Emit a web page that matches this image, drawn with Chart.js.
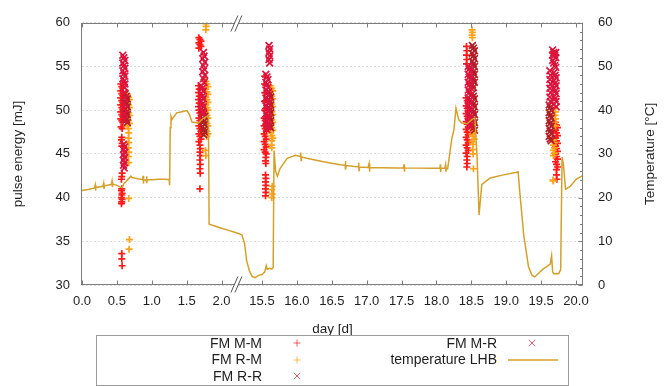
<!DOCTYPE html>
<html><head><meta charset="utf-8">
<script src="https://cdn.jsdelivr.net/npm/chart.js@4.4.1/dist/chart.umd.min.js"></script>
<style>
html,body{margin:0;padding:0;background:#fff;}
#wrap{position:relative;width:670px;height:386px;overflow:hidden;font-family:"Liberation Sans",Arial,sans-serif;}
#c{position:absolute;left:0;top:0;}
#legendBox{position:absolute;left:96px;top:335px;width:471px;height:49px;border:1px solid #9a9a9a;}
.lt{position:absolute;font-size:14px;color:#1e1e1e;white-space:nowrap;line-height:16px;text-align:right;}
svg.sym{position:absolute;overflow:visible;}
</style></head>
<body><div id="wrap"><canvas id="c" width="670" height="386"></canvas><div id="legendBox"></div></div>
<script>
// ---------------- data ----------------
const seriesNames = ['FM M-M', 'FM R-M', 'FM R-R', 'FM M-R', 'temperature LHB'];
const xTitle = 'day [d]';
const yTitle = 'pulse energy [mJ]';
const y2Title = 'Temperature [°C]';
const xTickDays = [0, 0.5, 1, 1.5, 2, 15.5, 16, 16.5, 17, 17.5, 18, 18.5, 19, 19.5, 20];
const xTickLabels = ['0.0','0.5','1.0','1.5','2.0','15.5','16.0','16.5','17.0','17.5','18.0','18.5','19.0','19.5','20.0'];
const yTicks = [30, 35, 40, 45, 50, 55, 60];
const y2Ticks = [0, 10, 20, 30, 40, 50, 60];
const xMaxDay = 20.1;
const gapDays = 12.92;      // days cut out by the axis break
const breakAtDay = 2.22;    // where the break marks sit

// FM M-M  [day, pulse energy mJ]
const mmPoints = [
 [0.555,53.0],[0.57,52.7],[0.585,52.5],[0.555,52.2],[0.57,51.9],[0.585,51.7],[0.555,51.4],[0.57,51.1],[0.585,50.9],
 [0.555,50.6],[0.57,50.3],[0.585,50.1],[0.555,49.8],[0.57,49.5],[0.585,49.3],[0.555,49.0],[0.57,48.8],[0.585,48.6],
 [0.56,48.1],[0.575,47.9],[0.57,46.9],[0.565,46.6],[0.575,46.2],[0.57,45.9],[0.575,42.8],[0.57,42.4],[0.565,42.1],
 [0.57,41.0],[0.565,40.8],[0.575,40.5],[0.57,40.3],[0.565,40.0],[0.575,39.8],[0.57,39.5],[0.565,39.3],
 [0.57,33.6],[0.57,33.0],[0.575,32.2],
 [1.675,58.3],[1.69,58.1],[1.705,57.9],[1.675,57.7],[1.69,57.5],[1.705,57.3],[1.675,57.1],
 [1.67,52.8],[1.68,52.4],[1.67,52.0],[1.68,51.6],[1.67,51.2],[1.68,50.8],[1.67,50.4],
 [1.675,50.0],[1.69,49.7],[1.705,49.4],[1.675,49.1],[1.69,48.8],[1.705,48.5],[1.675,48.2],[1.69,47.9],[1.705,47.6],
 [1.675,47.3],[1.69,47.0],[1.705,46.7],[1.675,46.4],
 [1.69,46.0],[1.695,45.6],[1.69,45.2],[1.695,44.8],[1.69,44.3],[1.695,43.8],[1.69,43.3],[1.695,42.8],[1.69,41.0],
 [15.54,53.9],[15.535,53.0],[15.54,52.0],[15.535,51.0],[15.54,50.0],
 [15.53,49.1],[15.545,48.8],[15.56,48.5],[15.53,48.2],[15.545,47.9],[15.56,47.6],[15.53,47.3],[15.545,47.0],[15.56,46.7],
 [15.53,46.4],[15.545,46.1],[15.56,45.8],[15.53,45.5],[15.545,45.2],[15.56,45.0],
 [15.555,44.6],[15.55,44.2],[15.555,43.9],[15.55,42.6],[15.555,42.2],[15.55,41.8],[15.555,41.4],[15.55,41.0],[15.555,40.6],[15.55,40.2],
 [18.43,57.3],[18.435,56.8],[18.43,56.3],[18.435,55.8],[18.43,55.3],
 [18.425,51.4],[18.44,51.1],[18.455,50.8],[18.425,50.5],[18.44,50.2],[18.455,49.9],[18.425,49.6],[18.44,49.3],[18.455,49.0],
 [18.425,48.7],[18.44,48.4],[18.455,48.1],[18.425,47.8],[18.44,47.5],[18.455,47.2],[18.425,46.9],[18.44,46.6],[18.455,46.3],
 [18.425,46.0],[18.44,45.7],[18.455,45.4],[18.425,45.1],
 [18.44,44.7],[18.435,44.3],[18.44,43.9],[18.435,43.5],
 [19.705,48.6],[19.72,48.3],[19.735,48.0],[19.705,47.7],[19.72,47.4],[19.735,47.1],[19.705,46.8],[19.72,46.5],[19.735,46.2],
 [19.705,45.9],[19.72,45.6],[19.735,45.3],[19.705,45.0],[19.72,44.7],[19.735,44.4],[19.705,44.1],[19.72,43.8],[19.735,43.5],
 [19.72,43.2],[19.72,42.6],[19.725,42.1]
];
// FM R-M
const rmPoints = [
 [0.65,51.8],[0.665,51.5],[0.68,51.2],[0.65,50.9],[0.665,50.6],[0.68,50.3],[0.65,50.0],[0.665,49.7],[0.68,49.4],
 [0.65,49.1],[0.665,48.8],[0.68,48.5],[0.65,48.2],[0.665,47.9],
 [0.67,47.4],[0.665,46.8],[0.67,46.3],[0.665,45.7],[0.67,45.2],[0.665,44.7],[0.67,44.0],[0.67,39.9],[0.68,35.2],[0.675,34.1],
 [1.775,53.3],[1.79,53.0],[1.805,52.7],[1.775,52.4],[1.79,52.1],[1.805,51.8],[1.775,51.5],[1.79,51.2],[1.805,50.9],
 [1.775,50.6],[1.79,50.3],[1.805,50.0],[1.775,49.7],[1.79,49.4],[1.805,49.1],[1.775,48.8],[1.79,48.5],[1.805,48.2],
 [1.775,47.9],[1.79,47.6],[1.805,47.3],[1.79,47.0],
 [1.775,59.9],[1.78,59.6],[1.775,59.2],[1.77,45.4],[1.775,44.8],
 [15.625,52.8],[15.64,52.5],[15.655,52.2],[15.625,51.9],[15.64,51.6],[15.655,51.3],[15.625,51.0],[15.64,50.7],[15.655,50.4],
 [15.625,50.1],[15.64,49.8],[15.655,49.5],[15.625,49.2],[15.64,48.9],[15.655,48.6],[15.625,48.3],[15.64,48.0],[15.655,47.7],
 [15.625,47.4],[15.64,47.1],[15.655,46.8],[15.64,46.5],
 [15.635,46.0],[15.64,45.7],[15.645,41.3],[15.64,40.9],[15.645,40.4],[15.64,40.0],
 [18.51,49.1],[18.525,48.8],[18.54,48.5],[18.51,48.2],[18.525,47.9],[18.54,47.6],[18.51,47.3],[18.525,47.0],[18.54,46.7],
 [18.51,46.4],[18.525,46.1],
 [18.51,59.2],[18.515,58.9],[18.51,58.6],[18.515,58.3],[18.52,45.5],[18.525,45.0],[18.53,43.3],
 [19.70,50.2],[19.705,49.8],[19.70,49.4],[19.705,49.0],[19.70,48.6],[19.705,48.2],
 [19.675,46.6],[19.69,46.3],[19.675,46.0],[19.69,45.7],[19.675,45.4],[19.69,45.1],[19.675,44.8],
 [19.67,42.0],[19.675,41.9]
];
// FM R-R
const rrPoints = [
 [0.62,51.9],[0.635,51.6],[0.65,51.3],[0.62,51.0],[0.635,50.7],[0.65,50.4],[0.62,50.1],[0.635,49.8],[0.65,49.5],
 [0.62,49.2],[0.635,48.9],[0.65,48.6],
 [1.73,49.9],[1.745,49.6],[1.76,49.3],[1.73,49.0],[1.745,48.7],[1.76,48.4],[1.73,48.1],[1.745,47.8],[1.76,47.5],[1.745,47.2],
 [15.595,52.1],[15.61,51.8],[15.625,51.5],[15.595,51.2],[15.61,50.9],[15.625,50.6],[15.595,50.3],[15.61,50.0],[15.625,49.7],
 [15.595,49.4],[15.61,49.1],[15.625,48.8],[15.595,48.5],[15.61,48.2],[15.625,48.0],
 [18.515,57.4],[18.53,57.1],[18.545,56.8],[18.515,56.5],[18.53,56.2],[18.545,55.9],[18.515,55.6],[18.53,55.3],[18.545,55.0],
 [18.515,54.7],[18.53,54.4],[18.545,54.1],[18.515,53.8],[18.53,53.5],[18.545,53.2],[18.515,52.9],[18.53,52.6],
 [18.515,51.9],[18.53,51.6],[18.545,51.3],[18.515,51.0],[18.53,50.7],[18.545,50.4],[18.515,50.1],[18.53,49.8],[18.545,49.5],
 [18.515,49.2],[18.53,48.9],[18.545,48.6],[18.515,48.3],[18.53,48.0],[18.545,47.7],
 [19.615,50.6],[19.63,50.3],[19.645,50.0],[19.615,49.7],[19.63,49.4],[19.645,49.1],[19.615,48.8],[19.63,48.5],[19.645,48.2],
 [19.615,47.9],[19.63,47.6],[19.645,47.3],[19.615,47.0],[19.63,46.7],[19.645,46.5]
];
// FM M-R
const mrPoints = [
 [0.585,56.3],[0.60,56.0],[0.615,55.7],[0.585,55.4],[0.60,55.1],[0.615,54.8],[0.585,54.5],[0.60,54.2],[0.615,53.9],
 [0.585,53.6],[0.60,53.3],[0.615,53.0],
 [0.61,52.6],[0.605,52.0],[0.61,51.4],[0.605,50.8],[0.61,50.2],[0.605,49.6],[0.61,49.0],
 [0.595,46.1],[0.61,45.8],[0.595,45.5],[0.61,45.2],[0.595,44.9],[0.61,44.6],[0.595,44.3],[0.61,44.0],[0.595,43.7],[0.605,43.4],
 [1.74,56.6],[1.75,56.2],[1.73,55.9],[1.76,55.5],[1.74,55.1],[1.75,54.7],[1.73,54.4],[1.76,54.0],[1.74,53.6],[1.75,53.2],
 [1.71,52.8],[1.725,52.5],[1.74,52.2],[1.71,51.9],[1.725,51.6],[1.74,51.3],[1.71,51.0],[1.725,50.7],[1.74,50.4],
 [1.71,50.1],[1.725,49.8],[1.74,49.6],
 [15.60,57.4],[15.61,57.0],[15.60,56.6],[15.61,56.2],[15.60,55.8],[15.61,55.4],
 [15.555,54.1],[15.57,53.8],[15.585,53.5],[15.555,53.2],[15.57,52.9],[15.585,52.6],[15.555,52.3],[15.57,52.0],[15.585,51.7],
 [15.555,51.4],[15.57,51.1],[15.585,50.8],[15.555,50.5],[15.57,50.2],[15.585,49.9],[15.555,49.6],[15.57,49.3],[15.585,49.0],
 [15.555,48.7],[15.57,48.4],[15.585,48.1],[15.57,47.8],
 [18.455,55.0],[18.47,54.7],[18.485,54.4],[18.455,54.1],[18.47,53.8],[18.485,53.5],[18.455,53.2],[18.47,52.9],[18.485,52.6],
 [18.455,52.3],[18.47,52.0],[18.485,51.7],[18.455,51.4],[18.47,51.1],[18.485,50.8],[18.455,50.5],[18.47,50.2],[18.485,49.9],
 [18.455,49.6],[18.47,49.3],[18.485,49.0],[18.455,48.7],[18.47,48.4],[18.485,48.1],
 [19.665,56.9],[19.68,56.6],[19.695,56.3],[19.71,56.0],[19.665,55.7],[19.68,55.4],[19.695,55.1],[19.71,54.9],[19.665,56.3],[19.71,56.6],
 [19.625,54.5],[19.635,54.0],[19.625,53.5],[19.635,53.0],[19.625,52.5],[19.635,52.0],[19.625,51.5],[19.635,51.0],
 [19.685,54.3],[19.70,54.0],[19.715,53.7],[19.685,53.4],[19.70,53.1],[19.715,52.8],[19.685,52.5],[19.70,52.2],[19.715,51.9],
 [19.685,51.6],[19.70,51.3],[19.715,51.0],[19.685,50.7],[19.715,50.4]
];
// temperature LHB  [day, °C]
const tempPoints = [
 [0.00,21.6],[0.10,21.9],[0.18,22.2],[0.19,22.9],[0.195,21.6],[0.20,22.3],[0.30,22.6],[0.31,23.3],[0.315,22.0],[0.32,22.7],
 [0.42,23.0],[0.43,23.8],[0.435,22.4],[0.44,23.1],[0.50,22.8],[0.55,22.4],[0.58,22.3],[0.60,23.2],[0.62,23.5],[0.65,24.0],
 [0.70,24.9],[0.72,24.6],[0.80,24.3],[0.87,24.1],[0.875,25.0],[0.88,23.2],[0.885,24.0],[0.92,24.0],[0.925,24.9],[0.93,23.3],
 [0.935,24.1],[1.00,24.1],[1.10,24.2],[1.20,24.2],[1.25,24.1],[1.255,22.8],[1.265,36.0],[1.275,38.6],[1.29,37.9],[1.357,39.4],
 [1.45,39.7],[1.504,39.9],[1.54,39.0],[1.576,37.3],[1.67,37.1],[1.742,38.2],[1.79,38.6],[1.812,38.8],[1.822,13.9],
 [2.00,13.0],[2.10,12.5],[2.20,12.0],
 [15.21,11.5],[15.25,9.5],[15.28,5.5],[15.32,3.2],[15.36,1.9],[15.40,1.7],[15.45,2.2],[15.50,2.4],[15.54,3.0],[15.56,4.4],
 [15.575,3.6],[15.61,3.8],[15.64,3.7],[15.66,4.0],[15.672,30.8],[15.695,26.0],[15.72,24.9],[15.76,26.7],[15.86,29.0],
 [15.98,29.7],[16.05,29.4],[16.055,30.3],[16.06,28.5],[16.065,29.3],[16.14,29.0],[16.38,28.2],[16.62,27.5],
 [16.69,27.4],[16.695,28.4],[16.70,26.4],[16.705,27.35],[16.82,27.1],[16.88,27.05],[16.885,28.0],[16.89,26.2],[16.895,27.0],
 [17.02,26.9],[17.03,26.9],[17.035,27.8],[17.04,25.9],[17.045,26.9],[17.42,26.8],[17.53,26.8],[17.535,27.6],[17.54,25.9],
 [17.545,26.8],[17.92,26.7],[18.05,26.7],[18.055,27.6],[18.06,25.8],[18.065,26.7],[18.12,26.7],[18.13,27.5],[18.135,25.9],
 [18.14,26.7],[18.16,26.6],[18.19,30.0],[18.22,33.5],[18.25,35.5],[18.28,40.5],[18.32,37.8],[18.36,37.1],[18.44,36.9],
 [18.51,37.9],[18.55,38.2],[18.58,30.0],[18.61,16.0],[18.65,23.0],[18.77,24.5],[18.96,25.2],[19.15,25.8],[19.17,25.9],
 [19.19,22.0],[19.25,11.5],[19.32,4.1],[19.37,2.2],[19.41,1.85],[19.47,2.8],[19.53,3.7],[19.59,4.3],[19.63,4.8],[19.65,6.7],
 [19.665,3.0],[19.68,2.6],[19.75,2.6],[19.78,3.5],[19.80,29.3],[19.82,27.5],[19.85,21.9],[19.92,22.6],[20.00,24.2],
 [20.08,24.9],[20.10,25.0]
];

// ---------------- styling ----------------
const colMM = '#ff1a1a', colRM = '#ffa31a', colRR = '#b02028', colMR = '#dc143c', colT = '#d4a02a';
const textCol = '#1e1e1e';
const FONT = '"Liberation Sans", Arial, Helvetica, sans-serif';
Chart.defaults.font.family = FONT;
Chart.defaults.color = textCol;

// broken day axis: days beyond the break are shifted left by gapDays
const compress = d => (d > breakAtDay ? d - gapDays : d);
const toXY = arr => arr.map(([d, v]) => ({x: compress(d), y: v}));

function scatterSet(label, pts, color, style, r, order) {
  return {label, data: toXY(pts), yAxisID: 'y', showLine: false, pointStyle: style,
    pointRadius: r, pointHoverRadius: r, pointBorderWidth: 1.7,
    pointBorderColor: color, pointBackgroundColor: color, borderColor: color, backgroundColor: color, order};
}

const decor = {
  id: 'decor',
  afterDatasetsDraw(chart) {
    const {ctx, chartArea: a, scales} = chart;
    const xs = scales.x, y2 = scales.y2;
    const L = Math.round(a.left) - 0.5, R = Math.round(a.right) - 0.5, T = Math.round(a.top) + 0.5, B = Math.round(a.bottom) - 0.5;
    ctx.save();
    ctx.strokeStyle = '#7d7d7d'; ctx.lineWidth = 1;
    ctx.strokeRect(L, T, R - L, B - T);
    ctx.beginPath();
    xTickDays.forEach(d => {
      const px = Math.round(xs.getPixelForValue(compress(d))) + 0.5;
      ctx.moveTo(px, B); ctx.lineTo(px, B - 4);
      ctx.moveTo(px, T); ctx.lineTo(px, T + 4);
    });
    for (let v = y2Ticks[0]; v <= y2Ticks[y2Ticks.length - 1]; v += 2) {
      const py = Math.round(y2.getPixelForValue(v)) + 0.5;
      const len = (v % 10 === 0) ? 4 : 2.5;
      ctx.moveTo(R, py); ctx.lineTo(R - len, py);
    }
    ctx.stroke();
    // axis break marks
    const bx = xs.getPixelForValue(compress(breakAtDay));
    [T, B].forEach(y0 => {
      ctx.beginPath();
      ctx.moveTo(bx - 6, y0 + 8); ctx.lineTo(bx + 1, y0 - 8); ctx.lineTo(bx + 5, y0 - 8); ctx.lineTo(bx - 2, y0 + 8); ctx.closePath();
      ctx.fillStyle = '#fff'; ctx.fill();
      ctx.beginPath();
      ctx.moveTo(bx - 6, y0 + 8); ctx.lineTo(bx + 1, y0 - 8);
      ctx.moveTo(bx - 2, y0 + 8); ctx.lineTo(bx + 5, y0 - 8);
      ctx.strokeStyle = '#555'; ctx.stroke();
    });
    // right axis title (reads bottom-to-top like the left one)
    ctx.translate(650, (a.top + a.bottom) / 2);
    ctx.rotate(-Math.PI / 2);
    ctx.font = '13.5px ' + FONT; ctx.fillStyle = textCol; ctx.textAlign = 'center'; ctx.textBaseline = 'middle';
    ctx.fillText(y2Title, 0, 0);
    ctx.restore();
  }
};

new Chart(document.getElementById('c'), {
  type: 'scatter',
  data: {datasets: [
    scatterSet(seriesNames[0], mmPoints, colMM, 'cross', 3.5, 4),
    scatterSet(seriesNames[1], rmPoints, colRM, 'cross', 3.5, 3),
    scatterSet(seriesNames[2], rrPoints, colRR, 'crossRot', 4.8, 2),
    scatterSet(seriesNames[3], mrPoints, colMR, 'crossRot', 4.8, 1),
    {label: seriesNames[4], type: 'line', data: toXY(tempPoints), yAxisID: 'y2', showLine: true,
     borderColor: colT, backgroundColor: colT, borderWidth: 1.5, pointRadius: 0, tension: 0, order: 0}
  ]},
  options: {
    responsive: false, animation: false, devicePixelRatio: 1,
    layout: {padding: {top: 15, left: 0, right: 0, bottom: 0}},
    plugins: {legend: {display: false}, tooltip: {enabled: false}},
    scales: {
      x: {type: 'linear', position: 'bottom', min: 0, max: compress(xMaxDay),
        afterBuildTicks: s => { s.ticks = xTickDays.map(d => ({value: compress(d)})); },
        ticks: {autoSkip: false, maxRotation: 0, padding: 9, font: {size: 13}, color: textCol,
          callback: (v, i) => xTickLabels[i]},
        grid: {display: false, drawTicks: false}, border: {display: false},
        title: {display: true, text: xTitle, font: {size: 13.5}, color: textCol, padding: {top: 0, bottom: 49}},
        afterFit: s => { s.height = 101; }
      },
      y: {type: 'linear', position: 'left', min: yTicks[0], max: yTicks[yTicks.length - 1],
        afterBuildTicks: s => { s.ticks = yTicks.map(v => ({value: v})); },
        ticks: {padding: 12, font: {size: 13}, color: textCol},
        grid: {color: '#dcdcdc', lineWidth: 1, drawTicks: false}, border: {display: false, dash: [2, 2]},
        title: {display: true, text: yTitle, font: {size: 13.5}, color: textCol, padding: {top: 10, bottom: 0}},
        afterFit: s => { s.width = 82; }
      },
      y2: {type: 'linear', position: 'right', min: y2Ticks[0], max: y2Ticks[y2Ticks.length - 1],
        afterBuildTicks: s => { s.ticks = y2Ticks.map(v => ({value: v})); },
        ticks: {padding: 15, font: {size: 13}, color: textCol},
        grid: {display: false, drawTicks: false}, border: {display: false},
        afterFit: s => { s.width = 87; }
      }
    }
  },
  plugins: [decor]
});

// ---------------- legend (HTML) ----------------
const wrap = document.getElementById('wrap');
const legendEntries = [
  {name: seriesNames[0], color: colMM, kind: 'plus',  right: 262, sx: 297, cy: 343},
  {name: seriesNames[1], color: colRM, kind: 'plus',  right: 262, sx: 297, cy: 359.5},
  {name: seriesNames[2], color: colRR, kind: 'x',     right: 262, sx: 297, cy: 376},
  {name: seriesNames[3], color: colMR, kind: 'x',     right: 497, sx: 532, cy: 343},
  {name: seriesNames[4], color: colT,  kind: 'line',  right: 497, sx: 532.5, cy: 359.5}
];
const NS = 'http://www.w3.org/2000/svg';
legendEntries.forEach(e => {
  const t = document.createElement('div');
  t.className = 'lt';
  t.textContent = e.name;
  t.style.right = (670 - e.right) + 'px';
  t.style.top = (e.cy - 8.5) + 'px';
  wrap.appendChild(t);
  const s = document.createElementNS(NS, 'svg');
  s.setAttribute('class', 'sym');
  const w = e.kind === 'line' ? 50 : 10;
  s.setAttribute('width', w); s.setAttribute('height', 10);
  s.style.left = (e.sx - w / 2) + 'px'; s.style.top = (e.cy - 5) + 'px';
  const segs = e.kind === 'plus' ? [[1.5,5,8.5,5],[5,1.5,5,8.5]]
             : e.kind === 'x' ? [[1.8,1.8,8.2,8.2],[1.8,8.2,8.2,1.8]]
             : [[0,5,50,5]];
  segs.forEach(([x1,y1,x2,y2]) => {
    const l = document.createElementNS(NS, 'line');
    l.setAttribute('x1', x1); l.setAttribute('y1', y1); l.setAttribute('x2', x2); l.setAttribute('y2', y2);
    l.setAttribute('stroke', e.color); l.setAttribute('stroke-width', e.kind === 'line' ? 1.5 : 1);
    l.setAttribute('stroke-opacity', e.kind === 'line' ? 1 : 0.7);
    s.appendChild(l);
  });
  wrap.appendChild(s);
});
</script>
</body></html>
